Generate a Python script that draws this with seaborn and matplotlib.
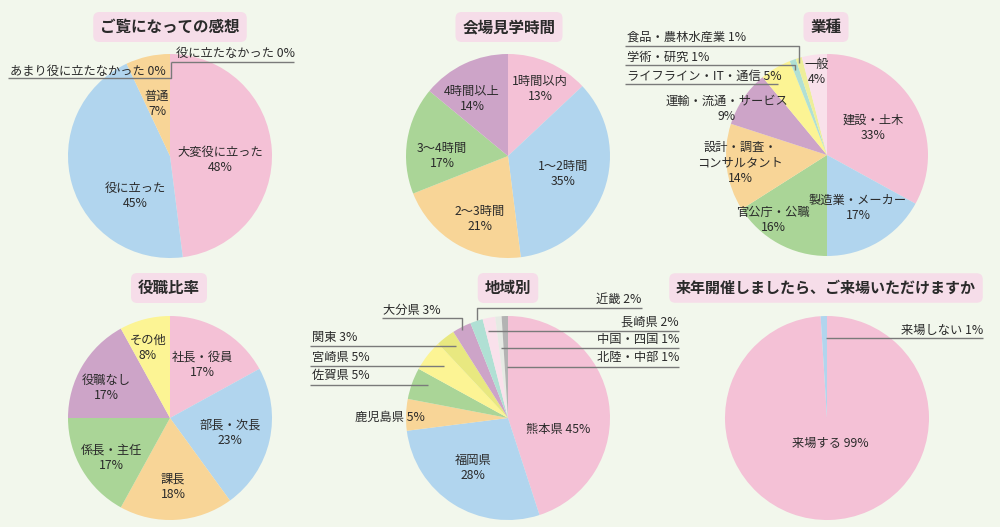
import matplotlib
matplotlib.use("Agg")
import matplotlib.pyplot as plt
import seaborn as sns

sns.set_style("white")
plt.rcParams['font.family'] = ['Noto Sans CJK JP', 'DejaVu Sans']

# ---------------- data ----------------
t1_title = 'ご覧になっての感想'
t1_labels = ['大変役に立った', '役に立った', '普通', 'あまり役に立たなかった', '役に立たなかった']
t1_values = [48, 45, 7, 0, 0]

t2_title = '会場見学時間'
t2_labels = ['1時間以内', '1〜2時間', '2〜3時間', '3〜4時間', '4時間以上']
t2_values = [13, 35, 21, 17, 14]

t3_title = '業種'
t3_labels = ['建設・土木', '製造業・メーカー', '官公庁・公職', '設計・調査・\nコンサルタント',
             '運輸・流通・サービス', 'ライフライン・IT・通信', '学術・研究', '食品・農林水産業', '一般']
t3_values = [33, 17, 16, 14, 9, 5, 1, 1, 4]

t4_title = '役職比率'
t4_labels = ['社長・役員', '部長・次長', '課長', '係長・主任', '役職なし', 'その他']
t4_values = [17, 23, 18, 17, 17, 8]

t5_title = '地域別'
t5_labels = ['熊本県', '福岡県', '鹿児島県', '佐賀県', '宮崎県', '関東', '大分県',
             '近畿', '長崎県', '中国・四国', '北陸・中部']
t5_values = [45, 28, 5, 5, 5, 3, 3, 2, 2, 1, 1]

t6_title = '来年開催しましたら、ご来場いただけますか'
t6_labels = ['来場する', '来場しない']
t6_values = [99, 1]

# ---------------- style ----------------
W, H = 1000, 527
BG = '#f2f7ec'
TITLE_BG = '#f6dde9'
TXT = '#2a2a2a'
LINE = '#7a7a7a'
PINK, BLUE, ORANGE, GREEN = '#f4c1d6', '#b1d5ee', '#f8d597', '#aad597'
PURPLE, YELLOW, TEAL = '#cda4c8', '#fcf494', '#b0e0d4'
PALEYEL, LPINK, KHAKI, LGRAY, GRAY = '#eeee9a', '#f9e1eb', '#e8e880', '#e6eae4', '#b3b3b3'

pal1 = sns.color_palette([PINK, BLUE, ORANGE, YELLOW, GREEN])
pal2 = sns.color_palette([PINK, BLUE, ORANGE, GREEN, PURPLE])
pal3 = sns.color_palette([PINK, BLUE, GREEN, ORANGE, PURPLE, YELLOW, TEAL, PALEYEL, LPINK])
pal4 = sns.color_palette([PINK, BLUE, ORANGE, GREEN, PURPLE, YELLOW])
pal5 = sns.color_palette([PINK, BLUE, ORANGE, GREEN, YELLOW, KHAKI, PURPLE, TEAL, LPINK, LGRAY, GRAY])
pal6 = sns.color_palette([PINK, BLUE])

LABEL_FS = 8.8
TITLE_FS = 11.2

fig = plt.figure(figsize=(W / 100, H / 100), dpi=100, facecolor=BG)
ax = fig.add_axes([0, 0, 1, 1])
ax.set_facecolor(BG)


def Y(y):
    return H - y


def draw_pie(values, colors, cx, cy, r):
    ax.pie(values, colors=colors, startangle=90, counterclock=False,
           center=(cx, Y(cy)), radius=r, wedgeprops=dict(linewidth=0))


def title(txt, cx, cy, fs=TITLE_FS):
    ax.text(cx, Y(cy), txt, ha='center', va='center', fontsize=fs,
            fontweight='bold', color=TXT,
            bbox=dict(boxstyle='round,pad=0.45,rounding_size=0.4', fc=TITLE_BG, ec='none'))


def inlabel(txt, x, y):
    ax.text(x, Y(y), txt, ha='center', va='center', fontsize=LABEL_FS, color=TXT,
            linespacing=1.25)


def outlabel(txt, x, y, ha='left'):
    ax.text(x, Y(y), txt, ha=ha, va='center', fontsize=LABEL_FS, color=TXT)


def leader(xs, ys):
    ax.plot(xs, [Y(v) for v in ys], color=LINE, lw=1, solid_capstyle='butt')


def pct(v):
    return f'{v}%'


# ---- pie 1 ----
draw_pie(t1_values, pal1, 170, 156, 102)
title(t1_title, 170, 27)
inlabel(f'{t1_labels[0]}\n{pct(t1_values[0])}', 220, 160)
inlabel(f'{t1_labels[1]}\n{pct(t1_values[1])}', 135, 196)
inlabel(f'{t1_labels[2]}\n{pct(t1_values[2])}', 157, 104)
outlabel(f'{t1_labels[3]} {pct(t1_values[3])}', 10, 71)
leader([8, 171, 171], [78, 78, 62])
outlabel(f'{t1_labels[4]} {pct(t1_values[4])}', 176, 53)
leader([171, 294], [62, 62])

# ---- pie 2 ----
draw_pie(t2_values, pal2, 508, 156, 102)
title(t2_title, 509, 27)
pos2 = [(540, 89), (563, 174), (480, 219), (442, 156), (472, 99)]
for lab, v, (x, y) in zip(t2_labels, t2_values, pos2):
    inlabel(f'{lab}\n{pct(v)}', x, y)

# ---- pie 3 ----
draw_pie(t3_values, pal3, 827, 155, 101)
title(t3_title, 826, 27)
pos3 = {0: (873, 128), 1: (858, 208), 2: (773, 220), 3: (740, 163), 4: (727, 109), 8: (817, 72)}
for i, (x, y) in pos3.items():
    inlabel(f'{t3_labels[i]}\n{pct(t3_values[i])}', x, y)
outlabel(f'{t3_labels[5]} {pct(t3_values[5])}', 627, 76)
leader([625, 778], [84, 84])
outlabel(f'{t3_labels[6]} {pct(t3_values[6])}', 627, 57)
leader([625, 795, 795], [65, 65, 70])
outlabel(f'{t3_labels[7]} {pct(t3_values[7])}', 627, 37)
leader([625, 799, 799], [46, 46, 63])

# ---- pie 4 ----
draw_pie(t4_values, pal4, 170, 418, 102)
title(t4_title, 169, 288)
pos4 = [(202, 365), (230, 433), (173, 487), (111, 458), (106, 388), (148, 348)]
for lab, v, (x, y) in zip(t4_labels, t4_values, pos4):
    inlabel(f'{lab}\n{pct(v)}', x, y)

# ---- pie 5 ----
draw_pie(t5_values, pal5, 508, 418, 102)
title(t5_title, 508, 288)
inlabel(f'{t5_labels[0]} {pct(t5_values[0])}', 558, 429)
inlabel(f'{t5_labels[1]}\n{pct(t5_values[1])}', 473, 468)
inlabel(f'{t5_labels[2]} {pct(t5_values[2])}', 390, 417)
outlabel(f'{t5_labels[3]} {pct(t5_values[3])}', 312, 376)
leader([310, 428], [385, 385])
outlabel(f'{t5_labels[4]} {pct(t5_values[4])}', 312, 357)
leader([310, 444], [366, 366])
outlabel(f'{t5_labels[5]} {pct(t5_values[5])}', 312, 337)
leader([310, 456], [346, 346])
outlabel(f'{t5_labels[6]} {pct(t5_values[6])}', 383, 310)
leader([382, 462, 462], [318, 318, 330])
outlabel(f'{t5_labels[7]} {pct(t5_values[7])}', 641, 299, ha='right')
leader([642, 477, 477], [308, 308, 320])
outlabel(f'{t5_labels[8]} {pct(t5_values[8])}', 679, 322, ha='right')
leader([488, 679], [331, 331])
outlabel(f'{t5_labels[9]} {pct(t5_values[9])}', 679, 340, ha='right')
leader([501, 679], [348, 348])
outlabel(f'{t5_labels[10]} {pct(t5_values[10])}', 679, 358, ha='right')
leader([507, 679], [367, 367])

# ---- pie 6 ----
draw_pie(t6_values, pal6, 827, 418, 102)
title(t6_title, 826, 288, fs=10.8)
inlabel(f'{t6_labels[0]} {pct(t6_values[0])}', 830, 443)
outlabel(f'{t6_labels[1]} {pct(t6_values[1])}', 983, 330, ha='right')
leader([826, 983], [338, 338])

ax.set_xlim(0, W)
ax.set_ylim(0, H)
ax.set_aspect('equal', adjustable='datalim')
ax.axis('off')
fig.savefig('out.png', dpi=100, facecolor=BG)
